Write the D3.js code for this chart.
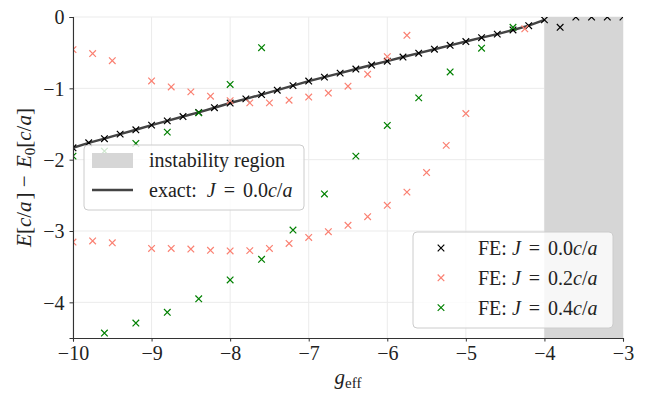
<!DOCTYPE html>
<html>
<head>
<meta charset="utf-8">
<script src="https://cdn.jsdelivr.net/npm/d3@7"></script>
<style>
  body { margin: 0; background: #fff; }
  svg { display: block; }
  text { font-family: "Liberation Serif", "Times New Roman", serif; fill: #222; white-space: pre; }
</style>
</head>
<body>
<svg id="chart" width="650" height="393"></svg>
<script>
// ---- data ----
var xTicks = [-10, -9, -8, -7, -6, -5, -4, -3];
var yTicks = [0, -1, -2, -3, -4];
var instability = [-4, -3];

// exact solution, J = 0
var gExact = [-10, -9.8, -9.6, -9.4, -9.2, -9, -8.8, -8.6, -8.4, -8.2, -8, -7.8, -7.6, -7.4, -7.2, -7,
  -6.8, -6.6, -6.4, -6.2, -6, -5.8, -5.6, -5.4, -5.2, -5, -4.8, -4.6, -4.4, -4.2, -4];
var eExact = [-1.834, -1.764, -1.706, -1.642, -1.581, -1.516, -1.456, -1.395, -1.337, -1.272, -1.206, -1.148,
  -1.087, -1.026, -0.962, -0.898, -0.843, -0.787, -0.729, -0.673, -0.619, -0.561, -0.507, -0.452, -0.397,
  -0.344, -0.290, -0.240, -0.182, -0.122, -0.040];

// FE, J = 0.0
var gFE0 = [-10, -9.8, -9.6, -9.4, -9.2, -9, -8.8, -8.6, -8.4, -8.2, -8, -7.8, -7.6, -7.4, -7.2, -7,
  -6.8, -6.6, -6.4, -6.2, -6, -5.8, -5.6, -5.4, -5.2, -5, -4.8, -4.6, -4.4, -4.2, -4,
  -3.8, -3.6, -3.4, -3.2, -3];
var eFE0 = [-1.834, -1.764, -1.706, -1.642, -1.581, -1.516, -1.456, -1.395, -1.337, -1.272, -1.206, -1.148,
  -1.087, -1.026, -0.962, -0.898, -0.843, -0.787, -0.729, -0.673, -0.619, -0.561, -0.507, -0.452, -0.397,
  -0.344, -0.290, -0.240, -0.182, -0.122, -0.040,
  -0.144, 0, 0, 0, 0];

// FE, J = 0.2 (two branches)
var gFE2a = [-10, -9.75, -9.5, -9, -8.75, -8.5, -8.25, -8, -7.75, -7.5, -7.25, -7, -6.75, -6.5, -6.25, -6, -5.75, -4.25];
var eFE2a = [-0.457, -0.513, -0.612, -0.896, -0.98, -1.05, -1.11, -1.172, -1.204, -1.204, -1.166, -1.122,
  -1.066, -0.97, -0.802, -0.556, -0.256, -0.166];
var gFE2b = [-10, -9.75, -9.5, -9, -8.75, -8.5, -8.25, -8, -7.75, -7.5, -7.25, -7, -6.75, -6.5, -6.25, -6, -5.75, -5.5, -5.25, -5];
var eFE2b = [-3.155, -3.14, -3.165, -3.245, -3.245, -3.253, -3.27, -3.28, -3.275, -3.245, -3.175, -3.09,
  -3.01, -2.92, -2.8, -2.64, -2.455, -2.18, -1.8, -1.353];

// FE, J = 0.4 (two branches)
var gFE4a = [-10, -9.6, -9.2, -8.8, -8.4, -8, -7.6];
var eFE4a = [-1.95, -1.88, -1.772, -1.614, -1.344, -0.946, -0.43];
var gFE4b = [-9.6, -9.2, -8.8, -8.4, -8, -7.6, -7.2, -6.8, -6.4, -6, -5.6, -5.2, -4.8, -4.4];
var eFE4b = [-4.43, -4.29, -4.14, -3.95, -3.686, -3.397, -2.986, -2.48, -1.95, -1.52, -1.134, -0.77, -0.438, -0.144];

var colBlack = "#000", colRed = "salmon", colGreen = "green";

// ---- layout ----
var svg = d3.select("svg#chart"),
  margin = {top: 17, right: 27, bottom: 55, left: 73},
  width = 650 - margin.left - margin.right,
  height = 393 - margin.top - margin.bottom;

var x = d3.scaleLinear().domain([-10, -3]).range([0, width]),
  y = d3.scaleLinear().domain([-4.5, 0]).range([height, 0]);

var g = svg.append("g").attr("transform", "translate(" + margin.left + "," + margin.top + ")");

g.append("clipPath").attr("id", "clip")
  .append("rect").attr("width", width).attr("height", height);

// grid
g.append("g").selectAll("line").data(xTicks).enter().append("line")
  .attr("x1", function(d) { return x(d); }).attr("x2", function(d) { return x(d); })
  .attr("y1", 0).attr("y2", height)
  .attr("stroke", "#ebebeb").attr("stroke-width", 1);
g.append("g").selectAll("line").data(yTicks).enter().append("line")
  .attr("y1", function(d) { return y(d); }).attr("y2", function(d) { return y(d); })
  .attr("x1", 0).attr("x2", width)
  .attr("stroke", "#ebebeb").attr("stroke-width", 1);

// instability region
g.append("rect")
  .attr("x", x(instability[0])).attr("width", x(instability[1]) - x(instability[0]))
  .attr("y", 0).attr("height", height)
  .attr("fill", "#d6d6d6");

var plot = g.append("g").attr("clip-path", "url(#clip)");

// exact line
var line = d3.line()
  .x(function(d) { return x(d[0]); })
  .y(function(d) { return y(d[1]); });

plot.append("path")
  .datum(d3.zip(gExact, eExact))
  .attr("d", line)
  .attr("fill", "none")
  .attr("stroke", "#444")
  .attr("stroke-width", 2.4);

var cross = "M-3.3,-3.3L3.3,3.3M-3.3,3.3L3.3,-3.3";

function markers(gs, es, color) {
  plot.append("g").selectAll("path")
    .data(d3.zip(gs, es))
    .enter().append("path")
    .attr("d", cross)
    .attr("transform", function(d) { return "translate(" + x(d[0]) + "," + y(d[1]) + ")"; })
    .attr("fill", "none")
    .attr("stroke", color)
    .attr("stroke-width", 1.2);
}

markers(gFE0, eFE0, colBlack);
markers(gFE2a, eFE2a, colRed);
markers(gFE2b, eFE2b, colRed);
markers(gFE4a, eFE4a, colGreen);
markers(gFE4b, eFE4b, colGreen);

// axes
var fmt = function(d) { return d < 0 ? "\u2212" + Math.abs(d) : String(d); };

var xAxis = g.append("g")
  .attr("transform", "translate(0," + height + ")")
  .call(d3.axisBottom(x).tickValues(xTicks).tickFormat(fmt).tickSize(3.5).tickPadding(4));
var yAxis = g.append("g")
  .call(d3.axisLeft(y).tickValues(yTicks).tickFormat(fmt).tickSize(3.5).tickPadding(5));

[xAxis, yAxis].forEach(function(a) {
  a.select(".domain").attr("stroke", "#333").attr("stroke-width", 1.1);
  a.selectAll(".tick line").attr("stroke", "#333");
  a.selectAll(".tick text")
    .style("font-family", "'Liberation Serif', serif")
    .style("font-size", "20px")
    .attr("fill", "#222");
});
yAxis.selectAll(".tick text").attr("dy", "0.34em");

// axis labels
var xl = svg.append("text")
  .attr("x", margin.left + width / 2)
  .attr("y", 384)
  .attr("text-anchor", "middle")
  .style("font-size", "21px");
xl.append("tspan").style("font-style", "italic").text("g");
xl.append("tspan").attr("dy", 4).style("font-size", "15px").text("eff");

var yl = svg.append("text")
  .attr("transform", "translate(31," + (margin.top + height / 2) + ") rotate(-90)")
  .attr("text-anchor", "middle")
  .style("font-size", "21px");
yl.append("tspan").style("font-style", "italic").text("E");
yl.append("tspan").text("[");
yl.append("tspan").style("font-style", "italic").text("c");
yl.append("tspan").text("/");
yl.append("tspan").style("font-style", "italic").text("a");
yl.append("tspan").attr("dx", 2).text("] \u2212 ");
yl.append("tspan").attr("dx", 2).style("font-style", "italic").text("E");
yl.append("tspan").attr("dy", 4).style("font-size", "15px").text("0");
yl.append("tspan").attr("dy", -4).text("[");
yl.append("tspan").style("font-style", "italic").text("c");
yl.append("tspan").text("/");
yl.append("tspan").style("font-style", "italic").text("a");
yl.append("tspan").text("]");

// math-ish label "FE: J = 0.0c/a"
function mathLabel(sel, prefix, val) {
  sel.append("tspan").text(prefix);
  sel.append("tspan").style("font-style", "italic").text("J");
  sel.append("tspan").attr("dx", 3).text(" = ");
  sel.append("tspan").attr("dx", 3).text(val);
  sel.append("tspan").style("font-style", "italic").text("c");
  sel.append("tspan").text("/");
  sel.append("tspan").style("font-style", "italic").text("a");
}

// legend 1 (upper left)
var leg1 = svg.append("g").attr("transform", "translate(84,145)");
leg1.append("rect")
  .attr("width", 220).attr("height", 65).attr("rx", 4)
  .attr("fill", "#fff").attr("fill-opacity", 0.8)
  .attr("stroke", "#ccc").attr("stroke-width", 1);
leg1.append("rect")
  .attr("x", 8).attr("y", 8).attr("width", 41).attr("height", 15)
  .attr("fill", "#d6d6d6");
leg1.append("line")
  .attr("x1", 8).attr("x2", 49).attr("y1", 45).attr("y2", 45)
  .attr("stroke", "#444").attr("stroke-width", 2.4);
leg1.append("text").attr("x", 65).attr("y", 22).style("font-size", "20px").text("instability region");
mathLabel(leg1.append("text").attr("x", 65).attr("y", 52).style("font-size", "20px"), "exact:  ", "0.0");

// legend 2 (lower right)
var leg2 = svg.append("g").attr("transform", "translate(413,232)");
leg2.append("rect")
  .attr("width", 200).attr("height", 96).attr("rx", 4)
  .attr("fill", "#fff").attr("fill-opacity", 0.8)
  .attr("stroke", "#ccc").attr("stroke-width", 1);
var feItems = [["0.0", colBlack], ["0.2", colRed], ["0.4", colGreen]];
feItems.forEach(function(it, i) {
  var yy = 16 + i * 29.8;
  leg2.append("path")
    .attr("d", cross)
    .attr("transform", "translate(28," + yy + ")")
    .attr("fill", "none").attr("stroke", it[1]).attr("stroke-width", 1.2);
  mathLabel(leg2.append("text").attr("x", 65).attr("y", yy + 7).style("font-size", "20px"), "FE: ", it[0]);
});
</script>
</body>
</html>
